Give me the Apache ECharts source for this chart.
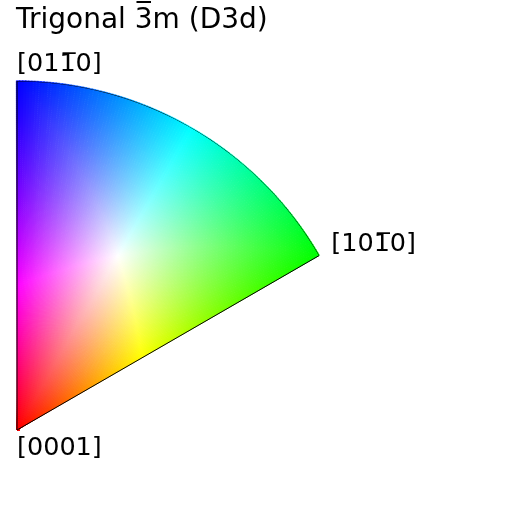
<!DOCTYPE html>
<html>
<head>
<meta charset="utf-8">
<script src="https://cdn.jsdelivr.net/npm/echarts@6/dist/echarts.min.js"></script>
<style>html,body{margin:0;padding:0;background:#fff;}#c{width:512px;height:512px;}</style>
</head>
<body>
<div id="c"></div>
<script>
// ---- chart data ----
const titleText = 'Trigonal 3\u0305m (D3d)';
const vertexLabels = ['[0001]', '[101\u03050]', '[011\u03050]'];
// vertices in stereographic polar coords: [projected radius, azimuth deg]
const vertexRadius = [0, 1, 1];
const vertexAzimuth = [30, 30, 90];
const sectorAzimuth = [30, 90];
const vertexHue = [0, 120, 240];

// ---- helpers ----
function toSphere(r, phiDeg) {
  const th = 2 * Math.atan(r), ph = phiDeg * Math.PI / 180;
  return [Math.sin(th) * Math.cos(ph), Math.sin(th) * Math.sin(ph), Math.cos(th)];
}
const dot = (a, b) => a[0]*b[0] + a[1]*b[1] + a[2]*b[2];
const cross = (a, b) => [a[1]*b[2]-a[2]*b[1], a[2]*b[0]-a[0]*b[2], a[0]*b[1]-a[1]*b[0]];
const norm = a => { const l = Math.hypot(a[0], a[1], a[2]); return [a[0]/l, a[1]/l, a[2]/l]; };
const ang = (a, b) => Math.acos(Math.max(-1, Math.min(1, dot(a, b))));

const V = vertexRadius.map((r, i) => toSphere(r, vertexAzimuth[i]));
const C = norm([V[0][0]+V[1][0]+V[2][0], V[0][1]+V[1][1]+V[2][1], V[0][2]+V[1][2]+V[2][2]]);
const edges = V.map((v, i) => {
  const w = V[(i + 1) % 3];
  return { from: v, to: w, n: norm(cross(v, w)), len: ang(v, w), h0: vertexHue[i] };
});

function hsl2rgb(h, s, l) {
  h = ((h % 360) + 360) % 360;
  const c = (1 - Math.abs(2*l - 1)) * s;
  const x = c * (1 - Math.abs((h / 60) % 2 - 1));
  const m = l - c / 2;
  let r, g, b;
  if (h < 60) [r, g, b] = [c, x, 0];
  else if (h < 120) [r, g, b] = [x, c, 0];
  else if (h < 180) [r, g, b] = [0, c, x];
  else if (h < 240) [r, g, b] = [0, x, c];
  else if (h < 300) [r, g, b] = [x, 0, c];
  else [r, g, b] = [c, 0, x];
  return 'rgb(' + Math.round((r+m)*255) + ',' + Math.round((g+m)*255) + ',' + Math.round((b+m)*255) + ')';
}

function keyColor(r, phi) {
  const v = toSphere(r, phi);
  const d = dot(C, v);
  const a = ang(C, v);
  if (a < 1e-9) return 'rgb(255,255,255)';
  const t = norm([v[0]-d*C[0], v[1]-d*C[1], v[2]-d*C[2]]);
  let best = null, sMin = Infinity;
  edges.forEach(e => {
    const nc = dot(e.n, C), nt = dot(e.n, t);
    if (nt < -1e-12) {
      const s = Math.atan2(nc, -nt);
      if (s < sMin) { sMin = s; best = e; }
    }
  });
  const b = [C[0]*Math.cos(sMin)+t[0]*Math.sin(sMin), C[1]*Math.cos(sMin)+t[1]*Math.sin(sMin), C[2]*Math.cos(sMin)+t[2]*Math.sin(sMin)];
  const f = Math.min(1, ang(best.from, b) / best.len);
  const hue = best.h0 + 120 * f;
  const rad = Math.min(1, a / sMin);
  return hsl2rgb(hue, 1, 1 - rad / 2);
}

// mesh cells (r0, r1, phi0, phi1, color)
const NR = 175, NP = 120;
const cells = [];
for (let i = 0; i < NR; i++) {
  for (let j = 0; j < NP; j++) {
    const r0 = i / NR, r1 = (i + 1) / NR;
    const p0 = sectorAzimuth[0] + (sectorAzimuth[1] - sectorAzimuth[0]) * j / NP;
    const p1 = sectorAzimuth[0] + (sectorAzimuth[1] - sectorAzimuth[0]) * (j + 1) / NP;
    cells.push([r0, r1, p0, p1, keyColor((r0 + r1) / 2, (p0 + p1) / 2)]);
  }
}

// boundary outline
const outline = [[vertexRadius[0], vertexAzimuth[0]], [vertexRadius[1], vertexAzimuth[1]]];
for (let p = sectorAzimuth[0]; p <= sectorAzimuth[1]; p += 0.5) outline.push([1, p]);
outline.push([vertexRadius[2], vertexAzimuth[2]]);
outline.push([0, vertexAzimuth[2]]);

const FONT = 'DejaVu Sans';
const labelFont = { fontFamily: FONT, fontSize: 25.5, color: '#000', opacity: 1 };
const labelPos = [
  { position: [0, 5], align: 'left', verticalAlign: 'top' },
  { position: [12, -11], align: 'left', verticalAlign: 'middle' },
  { position: [0, -4], align: 'left', verticalAlign: 'bottom' }
];

const chart = echarts.init(document.getElementById('c'), null, { renderer: 'canvas' });
chart.setOption({
  animation: false,
  backgroundColor: '#fff',
  title: { text: titleText, left: 11, top: 2, textStyle: { fontFamily: FONT, fontSize: 28, fontWeight: 'normal', color: '#000' } },
  polar: { center: [17, 430], radius: 349 },
  angleAxis: { type: 'value', min: 0, max: 360, startAngle: 0, clockwise: false, show: false },
  radiusAxis: { type: 'value', min: 0, max: 1, show: false },
  series: [
    {
      type: 'custom',
      coordinateSystem: 'polar',
      data: cells,
      silent: true,
      renderItem: function (params, api) {
        const cs = params.coordSys;
        const cx = cs.cx, cy = cs.cy;
        const a = api.coord([api.value(0), api.value(2)]);
        const b = api.coord([api.value(1), api.value(3)]);
        const r0 = Math.hypot(a[0]-cx, a[1]-cy);
        const r1 = Math.hypot(b[0]-cx, b[1]-cy);
        const s0 = Math.atan2(a[1]-cy, a[0]-cx);
        const s1 = Math.atan2(b[1]-cy, b[0]-cx);
        const col = api.value(4);
        return {
          type: 'sector',
          shape: { cx: cx, cy: cy, r0: r0, r: r1 + 0.3, startAngle: s1 - 0.002, endAngle: s0, clockwise: true },
          style: { fill: col, stroke: col, lineWidth: 0.6 }
        };
      }
    },
    {
      type: 'line',
      coordinateSystem: 'polar',
      data: outline,
      symbol: 'none',
      silent: true,
      lineStyle: { color: '#000', width: 1, opacity: 1 }
    },
    {
      type: 'scatter',
      coordinateSystem: 'polar',
      symbolSize: 0,
      silent: true,
      itemStyle: { opacity: 1 },
      data: vertexLabels.map((t, i) => ({
        value: [vertexRadius[i], vertexAzimuth[i]],
        label: Object.assign({ show: true, formatter: t }, labelFont, labelPos[i])
      }))
    }
  ]
});
</script>
</body>
</html>
